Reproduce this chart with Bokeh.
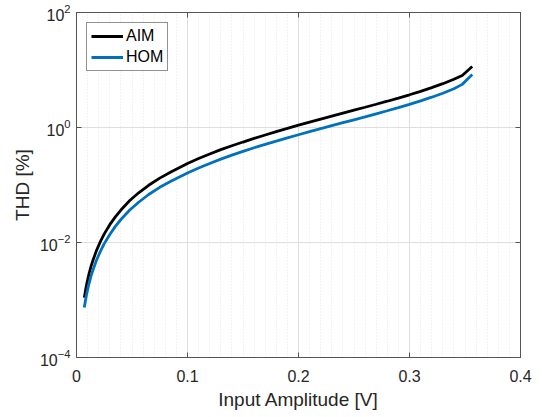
from bokeh.plotting import figure
from bokeh.models import Range1d, FixedTicker, LinearAxis, LogAxis, Legend, LegendItem
from bokeh.embed import file_html
from bokeh.resources import INLINE

# Data
amp = [0.007, 0.009, 0.011, 0.013, 0.015, 0.018, 0.0216, 0.025, 0.030, 0.035,
       0.040, 0.048, 0.056, 0.065, 0.075, 0.085, 0.100, 0.110, 0.120, 0.130,
       0.140, 0.150, 0.160, 0.170, 0.180, 0.190, 0.200, 0.210, 0.220, 0.230,
       0.240, 0.250, 0.260, 0.270, 0.280, 0.290, 0.300, 0.310, 0.320, 0.330,
       0.340, 0.3475, 0.3565]
thd_aim = [0.00110, 0.00182, 0.00272, 0.00380, 0.00501, 0.00724, 0.01047, 0.01413,
           0.02042, 0.02786, 0.03673, 0.05370, 0.07328, 0.09886, 0.1318, 0.1679,
           0.2371, 0.2884, 0.3467, 0.4121, 0.4819, 0.5585, 0.6457, 0.7413,
           0.8472, 0.9661, 1.0965, 1.2417, 1.4028, 1.5812, 1.7783, 2.000,
           2.2491, 2.5351, 2.8642, 3.2509, 3.7068, 4.2560, 4.9317, 5.7810,
           6.9183, 8.0353, 11.482]
thd_hom = [0.000741, 0.00123, 0.00184, 0.00257, 0.00339, 0.00490, 0.00708, 0.00955,
           0.01380, 0.01905, 0.02512, 0.03673, 0.05012, 0.06839, 0.09120, 0.1161,
           0.1622, 0.1972, 0.2371, 0.2818, 0.3311, 0.3846, 0.4446, 0.5093,
           0.5808, 0.6607, 0.7482, 0.8453, 0.9550, 1.0765, 1.2106, 1.3614,
           1.5311, 1.7298, 1.9543, 2.2182, 2.5293, 2.9040, 3.3651, 3.9446,
           4.7206, 5.6234, 8.3176]
x_ticks = [0, 0.1, 0.2, 0.3, 0.4]
x_minor = [round(i * 0.01, 2) for i in range(41)]
y_ticks = [1e-4, 1e-2, 1e0, 1e2]

TXT = "#262626"
AX = "#555555"
FONT = "Liberation Sans"

p = figure(width=534, height=414, output_backend="svg", toolbar_location=None,
           y_axis_type="log", x_range=Range1d(0, 0.4), y_range=Range1d(1e-4, 1e2),
           min_border_left=76, min_border_top=12, min_border_right=14, min_border_bottom=57)
p.background_fill_color = "white"
p.border_fill_color = "white"
p.outline_line_color = AX
p.outline_line_width = 1

p.xaxis.ticker = FixedTicker(ticks=x_ticks, minor_ticks=x_minor)
p.yaxis.ticker = FixedTicker(ticks=y_ticks, minor_ticks=[])

for ax in [p.xaxis[0], p.yaxis[0]]:
    ax.major_tick_in = 5
    ax.major_tick_out = 0
    ax.minor_tick_in = 0
    ax.minor_tick_out = 0
    ax.axis_line_color = AX
    ax.major_tick_line_color = AX
    ax.major_label_text_font = FONT
    ax.major_label_text_font_size = "16px"
    ax.major_label_text_color = TXT
    ax.axis_label_text_font = FONT
    ax.axis_label_text_font_size = "19px"
    ax.axis_label_text_font_style = "normal"
    ax.axis_label_text_color = TXT

p.xaxis.axis_label = "Input Amplitude [V]"
p.yaxis.axis_label = "THD [%]"
p.xaxis.major_label_standoff = 12
p.yaxis.major_label_standoff = 6
p.xaxis.axis_label_standoff = 4
p.yaxis.axis_label_standoff = 4

# box ticks on top/right
top = LinearAxis(ticker=FixedTicker(ticks=x_ticks, minor_ticks=[]))
right = LogAxis(ticker=FixedTicker(ticks=y_ticks, minor_ticks=[]))
for ax in [top, right]:
    ax.major_tick_in = 5
    ax.major_tick_out = 0
    ax.minor_tick_in = 0
    ax.minor_tick_out = 0
    ax.axis_line_color = AX
    ax.major_tick_line_color = AX
    ax.major_label_text_font_size = "0px"
    ax.major_label_text_color = None
    ax.major_label_standoff = 0
p.add_layout(top, "above")
p.add_layout(right, "right")

p.xgrid.grid_line_color = "#dedede"
p.ygrid.grid_line_color = "#dedede"
p.xgrid.minor_grid_line_color = "#e6e6e6"
p.xgrid.minor_grid_line_dash = "1 2"
p.ygrid.minor_grid_line_color = None

r1 = p.line(amp, thd_aim, line_color="black", line_width=2.8)
r2 = p.line(amp, thd_hom, line_color="#0072BD", line_width=2.8)

legend = Legend(items=[LegendItem(label="AIM", renderers=[r1]),
                       LegendItem(label="HOM", renderers=[r2])],
                location="top_left")
legend.label_text_font = FONT
legend.label_text_font_size = "16px"
legend.label_text_color = "black"
legend.glyph_width = 32
legend.glyph_height = 18
legend.label_height = 18
legend.label_standoff = 3
legend.padding = 4
legend.spacing = 3
legend.margin = 10
legend.border_line_color = "#262626"
legend.border_line_width = 1
legend.background_fill_color = "white"
p.add_layout(legend, "center")

open("out.html", "w").write(file_html(p, INLINE))
